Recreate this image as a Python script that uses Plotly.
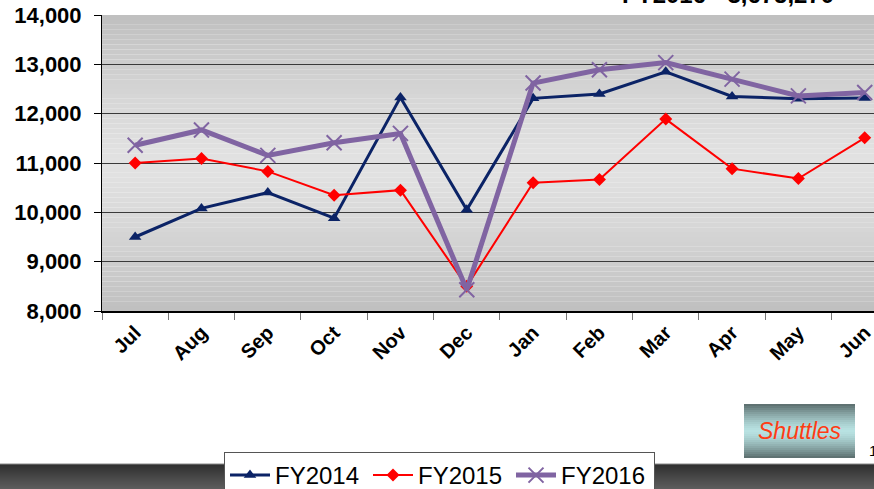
import plotly.graph_objects as go

months = ["Jul", "Aug", "Sep", "Oct", "Nov", "Dec", "Jan", "Feb", "Mar", "Apr", "May", "Jun"]
fy2014 = [9500, 10080, 10400, 9880, 12330, 10050, 12310, 12400, 12850, 12350, 12300, 12320]
fy2015 = [11000, 11090, 10830, 10345, 10450, 8500, 10600, 10665, 11890, 10885, 10685, 11510]
fy2016 = [11360, 11670, 11155, 11410, 11600, 8430, 12620, 12890, 13035, 12700, 12360, 12430]
y_ticks = [8000, 9000, 10000, 11000, 12000, 13000, 14000]

FONT = "Liberation Sans, Arial, sans-serif"
W, H = 874, 489
ML = 102
MT = 15
MR = 0
MB = H - 311
PW = W - ML - MR
PH = H - MT - MB


def px_x(p):
    return (p - ML) / PW


def px_y(p):
    return (H - MB - p) / PH


def lerp_col(c0, c1, t):
    return "rgb(%d,%d,%d)" % tuple(int(round(a + (b - a) * t)) for a, b in zip(c0, c1))


fig = go.Figure()
fig.add_trace(go.Scatter(x=months, y=fy2014, name="FY2014", mode="lines+markers",
                         line=dict(color="#0b2366", width=3),
                         marker=dict(symbol="triangle-up", size=11, color="#0b2366")))
fig.add_trace(go.Scatter(x=months, y=fy2015, name="FY2015", mode="lines+markers",
                         line=dict(color="#ff0000", width=2),
                         marker=dict(symbol="diamond", size=10, color="#ff0000")))
fig.add_trace(go.Scatter(x=months, y=fy2016, name="FY2016", mode="lines+markers",
                         line=dict(color="#8064a2", width=5),
                         marker=dict(symbol="x-thin-open", size=15,
                                     line=dict(color="#8064a2", width=2))))

shapes = []
n = 60
for i in range(n):
    t = (i + 0.5) / n
    d = abs(t - 0.5) / 0.5
    v = int(round(0xe2 - (0xe2 - 0xbf) * d ** 1.3))
    shapes.append(dict(type="rect", xref="x domain", yref="y domain",
                       x0=0, x1=1, y0=i / n, y1=(i + 1) / n,
                       fillcolor=f"rgb({v},{v},{v})", line=dict(width=0), layer="below"))

top, bot = 464, 489
nb = 25
for i in range(nb):
    t = (i + 0.5) / nb
    c = lerp_col((0x2e, 0x2e, 0x2e), (0x5e, 0x5e, 0x5e), t)
    y0p = top + (bot - top) * i / nb
    y1p = top + (bot - top) * (i + 1) / nb
    shapes.append(dict(type="rect", xref="paper", yref="paper",
                       x0=px_x(0), x1=px_x(880), y0=px_y(y1p), y1=px_y(y0p),
                       fillcolor=c, line=dict(width=0), layer="above"))
shapes.append(dict(type="line", xref="paper", yref="paper",
                   x0=px_x(0), x1=px_x(880), y0=px_y(464), y1=px_y(464),
                   line=dict(color="#8a8a8a", width=1), layer="above"))

st, sbm = 404, 458
ns = 27
for i in range(ns):
    t = (i + 0.5) / ns
    d = abs(t - 0.5) / 0.5
    c = lerp_col((0xb8, 0xe2, 0xe2), (0x5a, 0x6c, 0x6c), d ** 1.4)
    y0p = st + (sbm - st) * i / ns
    y1p = st + (sbm - st) * (i + 1) / ns
    shapes.append(dict(type="rect", xref="paper", yref="paper",
                       x0=px_x(744), x1=px_x(855), y0=px_y(y1p), y1=px_y(y0p),
                       fillcolor=c, line=dict(width=0), layer="above"))

annotations = [
    dict(text="<i>Shuttles</i>", xref="paper", yref="paper", x=px_x(800), y=px_y(431),
         showarrow=False, font=dict(family=FONT, size=23, color="#ff3c14"),
         xanchor="center", yanchor="middle"),
    dict(text="1", xref="paper", yref="paper", x=px_x(867), y=px_y(450),
         showarrow=False, font=dict(family=FONT, size=15, color="#000000"),
         xanchor="left", yanchor="middle"),
    dict(text="<b>FY2016 - 3,675,270</b>", xref="paper", yref="paper", x=px_x(728), y=px_y(10),
         showarrow=False, font=dict(family=FONT, size=24, color="#000000"),
         xanchor="center", yanchor="bottom"),
]

fig.update_layout(
    width=W, height=H,
    margin=dict(l=ML, r=MR, t=MT, b=MB, pad=0, autoexpand=False),
    paper_bgcolor="white",
    plot_bgcolor="rgba(0,0,0,0)",
    shapes=shapes,
    annotations=annotations,
    showlegend=True,
    legend=dict(orientation="h", x=px_x(224), y=px_y(452), xanchor="left", yanchor="top",
                bgcolor="white", bordercolor="#555555", borderwidth=1,
                font=dict(family=FONT, size=24, color="#000000"),
                itemwidth=40, entrywidth=88, entrywidthmode="pixels"),
    xaxis=dict(type="category", range=[-0.5, 11.14], tickson="boundaries",
               ticks="outside", ticklen=7, tickcolor="#777777", tickwidth=1,
               showline=True, linecolor="#000000", linewidth=2, showgrid=False,
               tickangle=-45,
               tickfont=dict(family=FONT, size=20, color="#000000", weight="bold")),
    yaxis=dict(range=[8000, 14000], tickvals=y_ticks, tickformat=",",
               ticks="outside", ticklen=7, tickcolor="#000000", tickwidth=1,
               showline=True, linecolor="#000000", linewidth=1,
               showgrid=True, gridcolor="#3a3a3a", gridwidth=1, zeroline=False,
               ticklabelstandoff=8, ticklabeloverflow="allow",
               tickfont=dict(family=FONT, size=22, color="#000000", weight="bold")),
)

fig.write_html("out.html", config={"displayModeBar": False},
               post_script="document.body.style.margin='0';document.body.style.overflow='hidden';")
